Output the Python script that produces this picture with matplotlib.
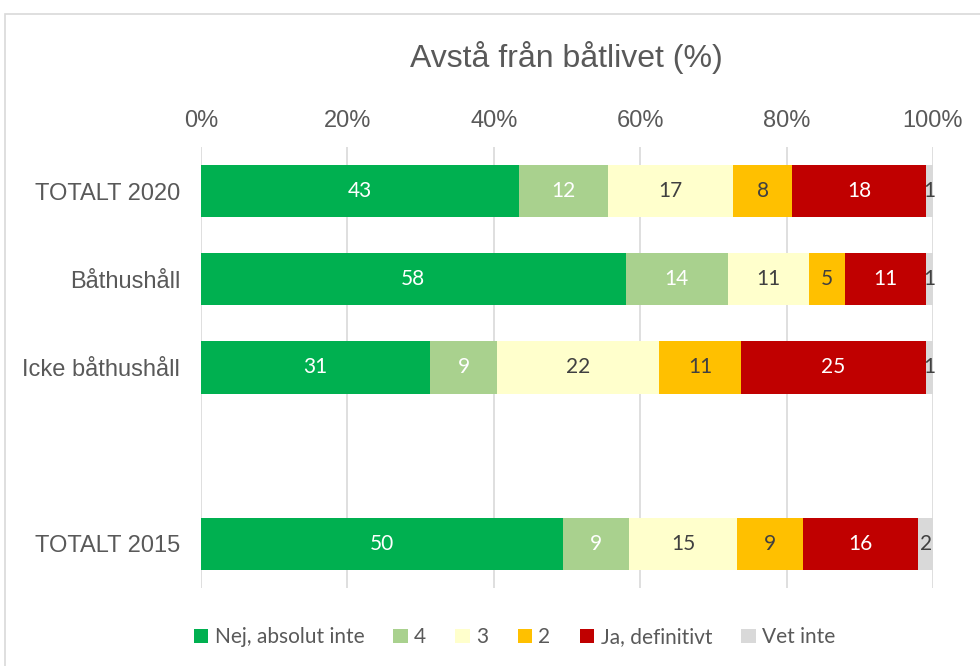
import numpy as np
import matplotlib.pyplot as plt
from matplotlib.patches import Rectangle

# data
groups = ['TOTALT 2020', 'Båthushåll', 'Icke båthushåll', '', 'TOTALT 2015']
series = ['Nej, absolut inte', '4', '3', '2', 'Ja, definitivt', 'Vet inte']
nej = [43, 58, 31, 0, 50]
four = [12, 14, 9, 0, 9]
three = [17, 11, 22, 0, 15]
two = [8, 5, 11, 0, 9]
ja = [18, 11, 25, 0, 16]
vet = [1, 1, 1, 0, 2]

colors = ['#00B050', '#A9D18E', '#FFFFCC', '#FFC000', '#C00000', '#D9D9D9']
label_colors = ['white', 'white', '#404040', '#404040', 'white', '#404040']

values = np.array([nej, four, three, two, ja, vet], dtype=float)
totals = values.sum(axis=0)
totals[totals == 0] = 1
shares = values / totals * 100

fig = plt.figure(figsize=(9.8, 6.66), dpi=100)
ax = fig.add_axes([0.2051, 0.1171, 0.7469, 0.6622])

# outer frame like the excel chart area
fig.patches.append(Rectangle((5 / 980, -0.01), 1.0, 1 - 14 / 666 + 0.01,
                             transform=fig.transFigure, fill=False,
                             edgecolor='#D9D9D9', linewidth=1.2))

y = np.arange(len(groups))
left = np.zeros(len(groups))
for i, name in enumerate(series):
    ax.barh(y, shares[i], left=left, height=0.59, color=colors[i],
            label=name, zorder=3)
    for j in range(len(groups)):
        if values[i, j] > 0:
            ax.text(left[j] + shares[i, j] / 2, y[j], f'{int(values[i, j])}',
                    ha='center', va='center', color=label_colors[i],
                    fontsize=15, family='Lato', zorder=4)
    left += shares[i]

ax.set_xlim(0, 100)
ax.set_ylim(len(groups) - 0.5, -0.5)
ax.set_xticks(np.arange(0, 101, 20))
ax.set_xticklabels([f'{t}%' for t in range(0, 101, 20)])
ax.xaxis.tick_top()
ax.set_yticks(y)
ax.set_yticklabels(groups)
ax.tick_params(length=0, labelsize=17, labelcolor='#595959')
for lab in ax.get_xticklabels() + ax.get_yticklabels():
    lab.set_family('Liberation Sans')
ax.tick_params(axis='x', pad=11)
ax.tick_params(axis='y', pad=15)
ax.grid(axis='x', color='#D9D9D9', linewidth=1.2, zorder=0)
for s in ax.spines.values():
    s.set_visible(False)

fig.text(0.578, 0.914, 'Avstå från båtlivet (%)', ha='center', va='center',
         fontsize=23, color='#595959', family='Liberation Sans')

fig.legend(loc='center', bbox_to_anchor=(0.525, 0.043), ncol=6,
           frameon=False, handlelength=0.7, handleheight=0.7,
           handletextpad=0.3, columnspacing=1.4,
           prop={'family': 'Lato', 'size': 15}, labelcolor='#595959')

fig.savefig('out.png', dpi=100)
